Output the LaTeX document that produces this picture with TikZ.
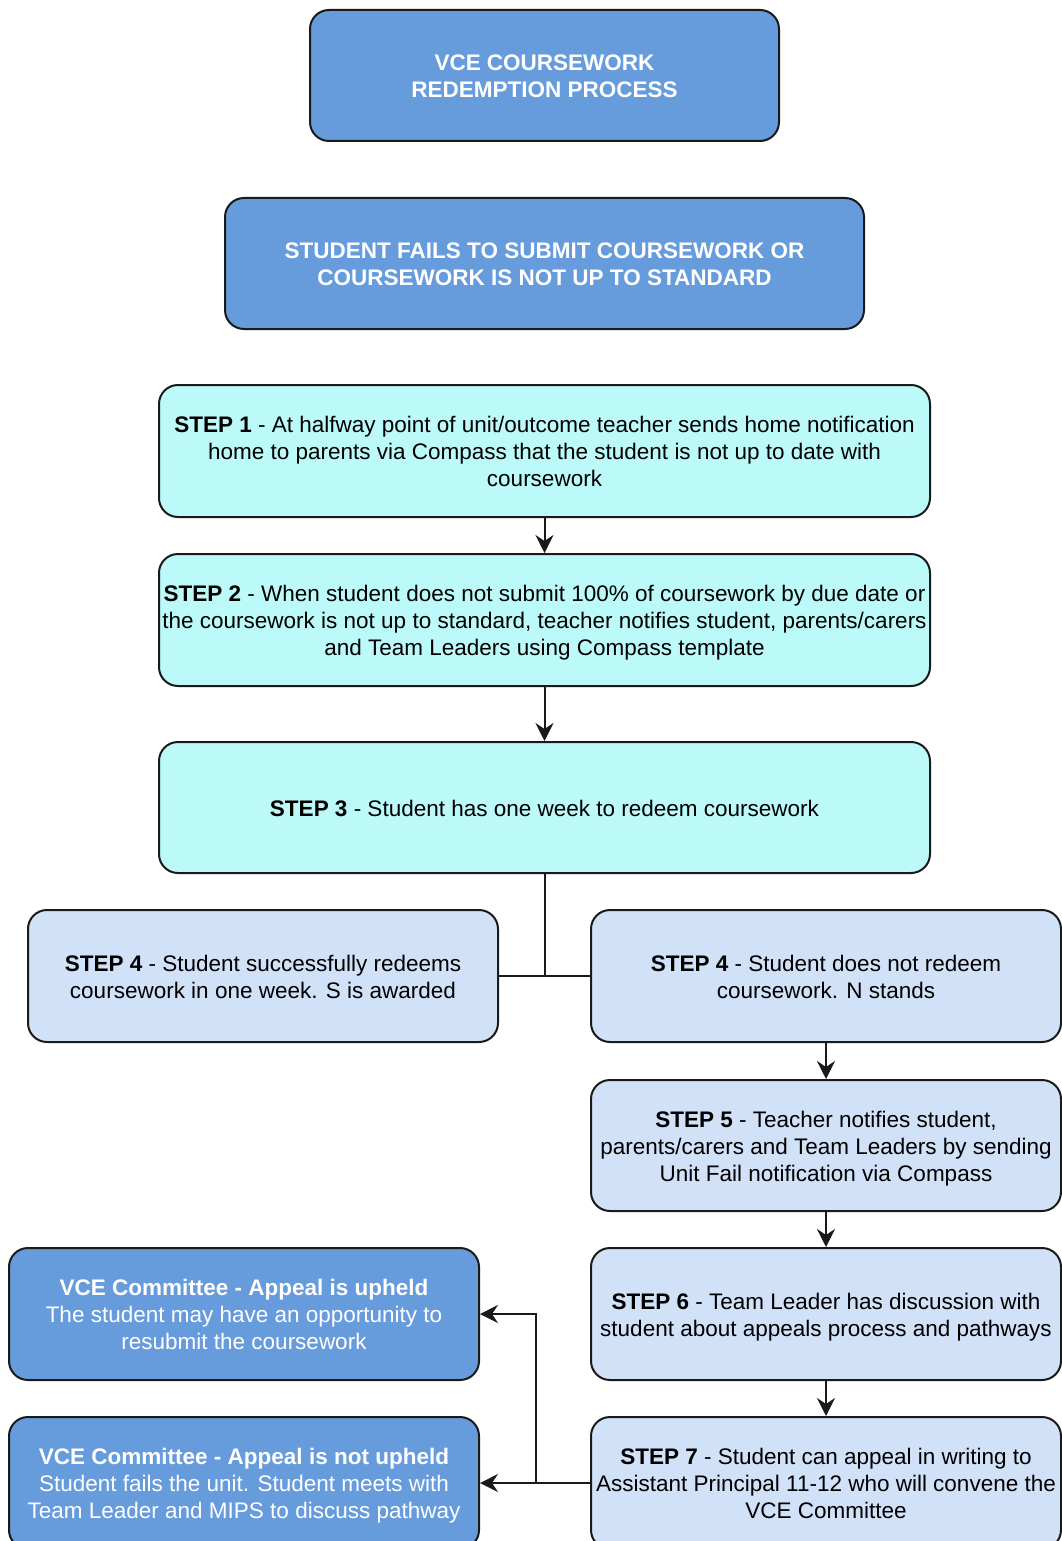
\documentclass[tikz,border=0pt]{standalone}
\usepackage{fontspec}
\setmainfont{Liberation Sans}
\usetikzlibrary{arrows.meta}
\definecolor{darkfill}{HTML}{669BDC}
\definecolor{cyanfill}{HTML}{BCF9F9}
\definecolor{lightfill}{HTML}{D1E1F8}
\definecolor{edge}{HTML}{1A1A1A}
% fixed line box so every line sits at the same height whatever its letters
\newcommand\SL{\rule[-5pt]{0pt}{27pt}}
\tikzset{
  box/.style={draw=edge, line width=2pt, rounded corners=19pt, align=center,
    font=\fontsize{22.5}{27}\selectfont, inner sep=0pt},
  size/.style 2 args={minimum width=#1, minimum height=#2},
  darkbox/.style={box, fill=darkfill, text=white},
  cyanbox/.style={box, fill=cyanfill, text=black},
  lightbox/.style={box, fill=lightfill, text=black},
  link/.style={draw=edge, line width=2pt},
  flow/.style={link, -{Stealth[length=18pt, width=18pt, inset=6pt]}}
}
\begin{document}
\begin{tikzpicture}[x=1pt, y=-1pt]
\clip (0,0) rectangle (1062,1541);
\fill[white] (0,0) rectangle (1062,1541);

% header boxes
\node[darkbox, size={469pt}{131pt}] (title) at (544.5,75.5)
  {\SL\bfseries VCE COURSEWORK\\\SL\bfseries REDEMPTION PROCESS};
\node[darkbox, size={639pt}{131pt}] (fails) at (544.5,263.5)
  {\SL\bfseries STUDENT FAILS TO SUBMIT COURSEWORK OR\\\SL\bfseries COURSEWORK IS NOT UP TO STANDARD};

% main steps
\node[cyanbox, size={771pt}{132pt}] (s1) at (544.5,451)
  {\SL\textbf{STEP 1} - At halfway point of unit/outcome teacher sends home notification\\
   \SL home to parents via Compass that the student is not up to date with\\
   \SL coursework};
\node[cyanbox, size={771pt}{132pt}] (s2) at (544.5,620)
  {\SL\textbf{STEP 2} - When student does not submit 100\% of coursework by due date or\\
   \SL the coursework is not up to standard, teacher notifies student, parents/carers\\
   \SL and Team Leaders using Compass template};
\node[cyanbox, size={771pt}{131pt}] (s3) at (544.5,807.5)
  {\SL\textbf{STEP 3} - Student has one week to redeem coursework};

% outcome of step 3
\node[lightbox, size={470pt}{132pt}] (s4a) at (263,976)
  {\SL\textbf{STEP 4} - Student successfully redeems\\\SL coursework in one week. S is awarded};
\node[lightbox, size={470pt}{132pt}] (s4b) at (826,976)
  {\SL\textbf{STEP 4} - Student does not redeem\\\SL coursework. N stands};
\node[lightbox, size={470pt}{131pt}] (s5) at (826,1145.5)
  {\SL\textbf{STEP 5} - Teacher notifies student,\\
   \SL parents/carers and Team Leaders by sending\\
   \SL Unit Fail notification via Compass};
\node[lightbox, size={470pt}{132pt}] (s6) at (826,1314)
  {\SL\textbf{STEP 6} - Team Leader has discussion with\\
   \SL student about appeals process and pathways};
\node[lightbox, size={470pt}{132pt}] (s7) at (826,1483)
  {\SL\textbf{STEP 7} - Student can appeal in writing to\\
   \SL Assistant Principal 11-12 who will convene the\\
   \SL VCE Committee};

% committee decisions
\node[darkbox, size={470pt}{132pt}] (up) at (244,1314)
  {\SL\textbf{VCE Committee - Appeal is upheld}\\
   \SL The student may have an opportunity to\\
   \SL resubmit the coursework};
\node[darkbox, size={470pt}{132pt}] (notup) at (244,1483)
  {\SL\textbf{VCE Committee - Appeal is not upheld}\\
   \SL Student fails the unit. Student meets with\\
   \SL Team Leader and MIPS to discuss pathway};

% connectors
\draw[flow] (s1) -- (s2);
\draw[flow] (s2) -- (s3);
\coordinate (split) at (s3.south |- s4a.east);
\draw[link] (s3.south) -- (split);
\draw[link] (s4a.east) -- (s4b.west);
\draw[flow] (s4b) -- (s5);
\draw[flow] (s5) -- (s6);
\draw[flow] (s6) -- (s7);
\draw[flow] (s7.west) -- (notup.east);
\coordinate (branch) at (535.5,1483);
\draw[flow] (branch) |- (up.east);
\end{tikzpicture}
\end{document}
